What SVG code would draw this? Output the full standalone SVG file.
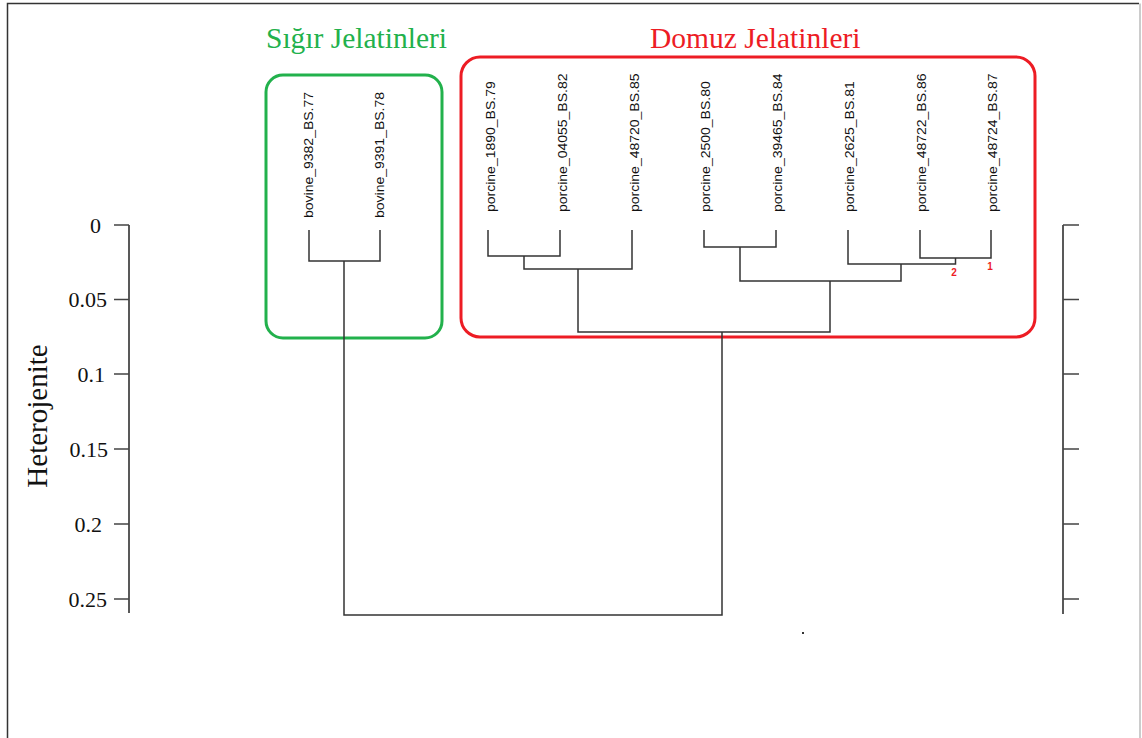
<svg xmlns="http://www.w3.org/2000/svg" width="1142" height="738" viewBox="0 0 1142 738">
  <style>
    .frame { fill: none; stroke: #333; stroke-width: 1.5; }
    .axis { fill: none; stroke: #222; stroke-width: 1.5; }
    .tick { fill: none; stroke: #444; stroke-width: 1.5; }
    .tlabel { font-family: "Liberation Serif", serif; font-size: 22px; fill: #111; text-anchor: end; }
    .ytitle { font-family: "Liberation Serif", serif; font-size: 29px; fill: #111; text-anchor: middle; }
    .title { font-family: "Liberation Serif", serif; font-size: 29.5px; }
    .leaf { font-family: "Liberation Sans", Arial, sans-serif; font-size: 14px; fill: #111; }
    .branch { fill: none; stroke: #333; stroke-width: 1.5; }
    .num { font-family: "Liberation Sans", Arial, sans-serif; font-size: 10px; font-weight: bold; fill: #ee1c25; text-anchor: middle; }
  </style>

  <rect x="0" y="0" width="1142" height="738" fill="#fff"/>
  <!-- page frame -->
  <path class="frame" d="M7.5,745 V3.5 H1139"/>
  <path d="M1140,3.5 V745" stroke="#bbb" stroke-width="1.5" fill="none"/>

  <!-- left height axis -->
  <g id="axis-left">
    <path class="axis" d="M129,225 V613"/>
    <path class="tick" d="M114,225 H129 M114,299.5 H129 M114,374 H129 M114,449 H129 M114,524 H129 M114,599 H129"/>
    <text class="tlabel" x="101" y="233">0</text>
    <text class="tlabel" x="107" y="307">0.05</text>
    <text class="tlabel" x="105" y="382">0.1</text>
    <text class="tlabel" x="108" y="457">0.15</text>
    <text class="tlabel" x="102" y="532">0.2</text>
    <text class="tlabel" x="107" y="607">0.25</text>
    <text class="ytitle" transform="translate(47,416) rotate(-90)">Heterojenite</text>
  </g>

  <!-- right height axis -->
  <g id="axis-right">
    <path class="axis" d="M1063,225 V614"/>
    <path class="tick" d="M1063,225 H1079 M1063,299.5 H1079 M1063,374 H1079 M1063,449 H1079 M1063,524 H1079 M1063,599 H1079"/>
  </g>

  <!-- group outlines and titles -->
  <g id="group-bovine">
    <rect x="266" y="75" width="176" height="263" rx="17" fill="none" stroke="#22b14c" stroke-width="3"/>
    <text class="title" x="266" y="48" fill="#22b14c">Sığır Jelatinleri</text>
  </g>
  <g id="group-porcine">
    <rect x="461" y="57" width="574" height="280" rx="19" fill="none" stroke="#ed1c24" stroke-width="3"/>
    <text class="title" x="650" y="48" fill="#ed1c24">Domuz Jelatinleri</text>
  </g>

  <!-- leaf labels -->
  <g id="leaf-bovine_9382"><text class="leaf" transform="translate(313,218) rotate(-90) scale(1,0.85)">bovine_9382_BS.77</text></g>
  <g id="leaf-bovine_9391"><text class="leaf" transform="translate(384,218) rotate(-90) scale(1,0.85)">bovine_9391_BS.78</text></g>
  <g id="leaf-porcine_1890"><text class="leaf" transform="translate(494.5,212) rotate(-90) scale(1,0.85)">porcine_1890_BS.79</text></g>
  <g id="leaf-porcine_04055"><text class="leaf" transform="translate(566.5,212) rotate(-90) scale(1,0.85)">porcine_04055_BS.82</text></g>
  <g id="leaf-porcine_48720"><text class="leaf" transform="translate(638.5,212) rotate(-90) scale(1,0.85)">porcine_48720_BS.85</text></g>
  <g id="leaf-porcine_2500"><text class="leaf" transform="translate(709.5,212) rotate(-90) scale(1,0.85)">porcine_2500_BS.80</text></g>
  <g id="leaf-porcine_39465"><text class="leaf" transform="translate(782,212) rotate(-90) scale(1,0.85)">porcine_39465_BS.84</text></g>
  <g id="leaf-porcine_2625"><text class="leaf" transform="translate(854,212) rotate(-90) scale(1,0.85)">porcine_2625_BS.81</text></g>
  <g id="leaf-porcine_48722"><text class="leaf" transform="translate(925.5,212) rotate(-90) scale(1,0.85)">porcine_48722_BS.86</text></g>
  <g id="leaf-porcine_48724"><text class="leaf" transform="translate(997,212) rotate(-90) scale(1,0.85)">porcine_48724_BS.87</text></g>

  <!-- dendrogram branches -->
  <g id="connectors">
    <path class="branch" d="M309,230 V261 H380 V230"/>
    <path class="branch" d="M488,230 V256 H560 V230"/>
    <path class="branch" d="M524,256 V269 H632 V230"/>
    <path class="branch" d="M704,230 V247 H776 V230"/>
    <path class="branch" d="M920,230 V258 H991 V230"/>
    <path class="branch" d="M848,230 V264 H955.5 V258"/>
    <path class="branch" d="M740,247 V281 H901 V264"/>
    <path class="branch" d="M578,269 V332 H830 V281"/>
    <path class="branch" d="M344,261 V615 H722 V332"/>
  </g>

  <!-- merge order marks -->
  <text class="num" x="990" y="270">1</text>
  <text class="num" x="954" y="276">2</text>

  <rect x="802" y="632" width="2" height="2" fill="#333"/>
</svg>
